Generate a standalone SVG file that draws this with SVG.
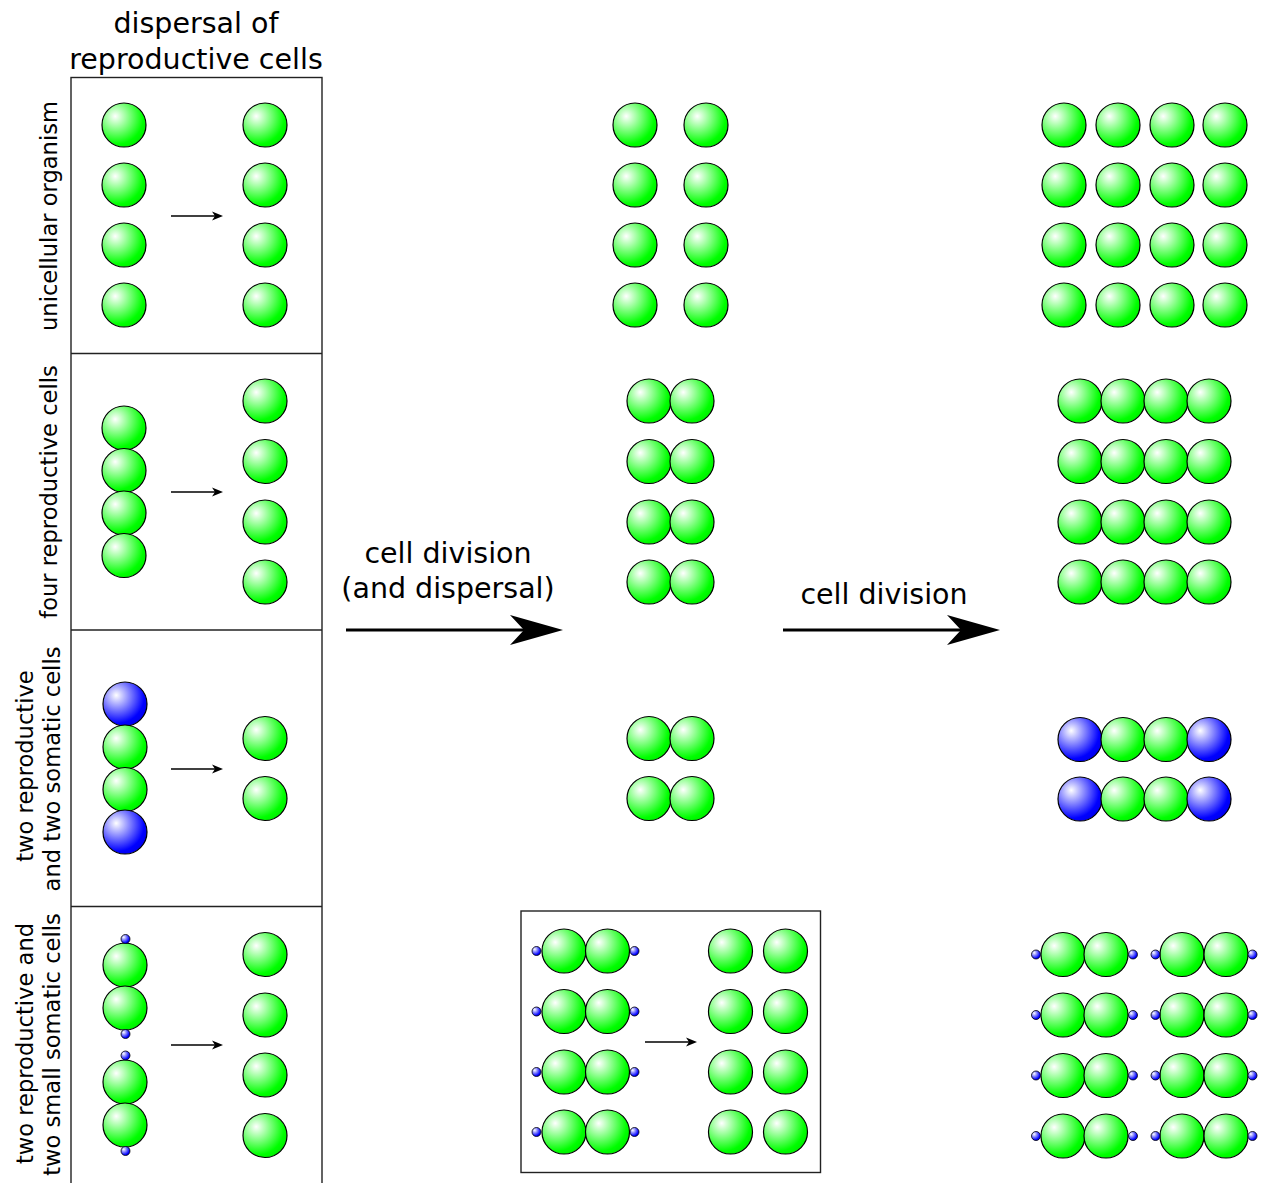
<svg xmlns="http://www.w3.org/2000/svg" width="1264" height="1183" viewBox="0 0 1264 1183">
<style>
text{font-family:"DejaVu Sans","Liberation Sans",sans-serif;fill:#000}
.h{font-size:28.5px;text-anchor:middle}
.v{font-size:22.6px;text-anchor:middle}
.g{fill:url(#gg);stroke:#000;stroke-width:1.2}
.b{fill:url(#bg);stroke:#000;stroke-width:1.2}
.d{fill:url(#bg);stroke:#000;stroke-width:0.8}
.frame{fill:none;stroke:#222;stroke-width:1.4}
.sa{stroke:#000;stroke-width:1.7;fill:none}
.ba{stroke:#000;stroke-width:3;fill:none}
.hd{fill:#000;stroke:none}
</style>
<defs>
<radialGradient id="gg" cx="0.33" cy="0.33" r="0.72" fx="0.3" fy="0.3">
<stop offset="0" stop-color="#ffffff"/>
<stop offset="0.85" stop-color="#00ff00"/>
<stop offset="1" stop-color="#00f000"/>
</radialGradient>
<radialGradient id="bg" cx="0.33" cy="0.33" r="0.72" fx="0.3" fy="0.3">
<stop offset="0" stop-color="#ffffff"/>
<stop offset="0.85" stop-color="#0000ff"/>
<stop offset="1" stop-color="#0000ee"/>
</radialGradient>
</defs>
<rect width="1264" height="1183" fill="#fff"/>

<g id="header">
<text class="h" x="196" y="33">dispersal of</text>
<text class="h" x="196" y="69">reproductive cells</text>
</g>

<g id="row-labels">
<text class="v" transform="translate(57,216) rotate(-90)">unicellular organism</text>
<text class="v" transform="translate(57,492) rotate(-90)">four reproductive cells</text>
<text class="v" transform="translate(33,766) rotate(-90)">two reproductive</text>
<text class="v" transform="translate(60,769) rotate(-90)">and two somatic cells</text>
<text class="v" transform="translate(33,1043.5) rotate(-90)">two reproductive and</text>
<text class="v" transform="translate(60,1044.5) rotate(-90)">two small somatic cells</text>
</g>

<g id="dispersal-frame">
<rect class="frame" x="71" y="77.5" width="251" height="1120"/>
<line class="frame" x1="71" y1="353.5" x2="322" y2="353.5"/>
<line class="frame" x1="71" y1="630" x2="322" y2="630"/>
<line class="frame" x1="71" y1="906.5" x2="322" y2="906.5"/>
</g>

<g id="unicellular-dispersal">
<circle class="g" cx="124" cy="125" r="22"/><circle class="g" cx="124" cy="185" r="22"/><circle class="g" cx="124" cy="245" r="22"/><circle class="g" cx="124" cy="305" r="22"/>
<circle class="g" cx="265" cy="125" r="22"/><circle class="g" cx="265" cy="185" r="22"/><circle class="g" cx="265" cy="245" r="22"/><circle class="g" cx="265" cy="305" r="22"/>
</g>

<g id="four-reproductive-dispersal">
<circle class="g" cx="124" cy="428" r="22"/><circle class="g" cx="124" cy="470.5" r="22"/><circle class="g" cx="124" cy="513" r="22"/><circle class="g" cx="124" cy="555.5" r="22"/>
<circle class="g" cx="265" cy="401" r="22"/><circle class="g" cx="265" cy="461.5" r="22"/><circle class="g" cx="265" cy="522" r="22"/><circle class="g" cx="265" cy="582" r="22"/>
</g>

<g id="somatic-dispersal">
<circle class="b" cx="125" cy="704" r="22"/><circle class="g" cx="125" cy="747" r="22"/><circle class="g" cx="125" cy="789.5" r="22"/><circle class="b" cx="125" cy="832" r="22"/>
<circle class="g" cx="265" cy="738.5" r="22"/><circle class="g" cx="265" cy="798.5" r="22"/>
</g>

<g id="small-somatic-dispersal">
<circle class="g" cx="125" cy="965" r="22"/><circle class="g" cx="125" cy="1008" r="22"/>
<circle class="d" cx="125.5" cy="939" r="4.5"/><circle class="d" cx="125.5" cy="1034" r="4.5"/>
<circle class="g" cx="125" cy="1082" r="22"/><circle class="g" cx="125" cy="1125" r="22"/>
<circle class="d" cx="125.5" cy="1055.5" r="4.5"/><circle class="d" cx="125.5" cy="1151" r="4.5"/>
<circle class="g" cx="265" cy="954.5" r="22"/><circle class="g" cx="265" cy="1015" r="22"/><circle class="g" cx="265" cy="1075" r="22"/><circle class="g" cx="265" cy="1135.5" r="22"/>
</g>

<g id="unicellular-stage2">
<circle class="g" cx="635" cy="125" r="22"/><circle class="g" cx="706" cy="125" r="22"/>
<circle class="g" cx="635" cy="185" r="22"/><circle class="g" cx="706" cy="185" r="22"/>
<circle class="g" cx="635" cy="245" r="22"/><circle class="g" cx="706" cy="245" r="22"/>
<circle class="g" cx="635" cy="305" r="22"/><circle class="g" cx="706" cy="305" r="22"/>
</g>

<g id="unicellular-stage3">
<circle class="g" cx="1064" cy="125" r="22"/><circle class="g" cx="1118" cy="125" r="22"/><circle class="g" cx="1172" cy="125" r="22"/><circle class="g" cx="1225" cy="125" r="22"/>
<circle class="g" cx="1064" cy="185" r="22"/><circle class="g" cx="1118" cy="185" r="22"/><circle class="g" cx="1172" cy="185" r="22"/><circle class="g" cx="1225" cy="185" r="22"/>
<circle class="g" cx="1064" cy="245" r="22"/><circle class="g" cx="1118" cy="245" r="22"/><circle class="g" cx="1172" cy="245" r="22"/><circle class="g" cx="1225" cy="245" r="22"/>
<circle class="g" cx="1064" cy="305" r="22"/><circle class="g" cx="1118" cy="305" r="22"/><circle class="g" cx="1172" cy="305" r="22"/><circle class="g" cx="1225" cy="305" r="22"/>
</g>

<g id="four-reproductive-stage2">
<circle class="g" cx="649" cy="401" r="22"/><circle class="g" cx="692" cy="401" r="22"/>
<circle class="g" cx="649" cy="461.5" r="22"/><circle class="g" cx="692" cy="461.5" r="22"/>
<circle class="g" cx="649" cy="522" r="22"/><circle class="g" cx="692" cy="522" r="22"/>
<circle class="g" cx="649" cy="582" r="22"/><circle class="g" cx="692" cy="582" r="22"/>
</g>

<g id="four-reproductive-stage3">
<circle class="g" cx="1080" cy="401" r="22"/><circle class="g" cx="1123" cy="401" r="22"/><circle class="g" cx="1166" cy="401" r="22"/><circle class="g" cx="1209" cy="401" r="22"/>
<circle class="g" cx="1080" cy="461.5" r="22"/><circle class="g" cx="1123" cy="461.5" r="22"/><circle class="g" cx="1166" cy="461.5" r="22"/><circle class="g" cx="1209" cy="461.5" r="22"/>
<circle class="g" cx="1080" cy="522" r="22"/><circle class="g" cx="1123" cy="522" r="22"/><circle class="g" cx="1166" cy="522" r="22"/><circle class="g" cx="1209" cy="522" r="22"/>
<circle class="g" cx="1080" cy="582" r="22"/><circle class="g" cx="1123" cy="582" r="22"/><circle class="g" cx="1166" cy="582" r="22"/><circle class="g" cx="1209" cy="582" r="22"/>
</g>

<g id="somatic-stage2">
<circle class="g" cx="649" cy="738.5" r="22"/><circle class="g" cx="692" cy="738.5" r="22"/>
<circle class="g" cx="649" cy="798.5" r="22"/><circle class="g" cx="692" cy="798.5" r="22"/>
</g>

<g id="somatic-stage3">
<circle class="b" cx="1080" cy="739.5" r="22"/><circle class="g" cx="1123" cy="739.5" r="22"/><circle class="g" cx="1166" cy="739.5" r="22"/><circle class="b" cx="1209" cy="739.5" r="22"/>
<circle class="b" cx="1080" cy="799" r="22"/><circle class="g" cx="1123" cy="799" r="22"/><circle class="g" cx="1166" cy="799" r="22"/><circle class="b" cx="1209" cy="799" r="22"/>
</g>

<g id="small-somatic-stage2">
<rect class="frame" x="521" y="911" width="299.5" height="261.5"/>
<circle class="g" cx="564" cy="951" r="22"/><circle class="g" cx="607.5" cy="951" r="22"/><circle class="d" cx="536.5" cy="951" r="4.5"/><circle class="d" cx="634.5" cy="951" r="4.5"/>
<circle class="g" cx="564" cy="1011.5" r="22"/><circle class="g" cx="607.5" cy="1011.5" r="22"/><circle class="d" cx="536.5" cy="1011.5" r="4.5"/><circle class="d" cx="634.5" cy="1011.5" r="4.5"/>
<circle class="g" cx="564" cy="1072" r="22"/><circle class="g" cx="607.5" cy="1072" r="22"/><circle class="d" cx="536.5" cy="1072" r="4.5"/><circle class="d" cx="634.5" cy="1072" r="4.5"/>
<circle class="g" cx="564" cy="1132" r="22"/><circle class="g" cx="607.5" cy="1132" r="22"/><circle class="d" cx="536.5" cy="1132" r="4.5"/><circle class="d" cx="634.5" cy="1132" r="4.5"/>
<circle class="g" cx="730.5" cy="951" r="22"/><circle class="g" cx="785.5" cy="951" r="22"/>
<circle class="g" cx="730.5" cy="1011.5" r="22"/><circle class="g" cx="785.5" cy="1011.5" r="22"/>
<circle class="g" cx="730.5" cy="1072" r="22"/><circle class="g" cx="785.5" cy="1072" r="22"/>
<circle class="g" cx="730.5" cy="1132" r="22"/><circle class="g" cx="785.5" cy="1132" r="22"/>
</g>

<g id="small-somatic-stage3">
<circle class="g" cx="1063" cy="954.5" r="22"/><circle class="g" cx="1106" cy="954.5" r="22"/><circle class="d" cx="1036" cy="954.5" r="4.5"/><circle class="d" cx="1133" cy="954.5" r="4.5"/>
<circle class="g" cx="1182" cy="954.5" r="22"/><circle class="g" cx="1226" cy="954.5" r="22"/><circle class="d" cx="1155.5" cy="954.5" r="4.5"/><circle class="d" cx="1252.5" cy="954.5" r="4.5"/>
<circle class="g" cx="1063" cy="1015" r="22"/><circle class="g" cx="1106" cy="1015" r="22"/><circle class="d" cx="1036" cy="1015" r="4.5"/><circle class="d" cx="1133" cy="1015" r="4.5"/>
<circle class="g" cx="1182" cy="1015" r="22"/><circle class="g" cx="1226" cy="1015" r="22"/><circle class="d" cx="1155.5" cy="1015" r="4.5"/><circle class="d" cx="1252.5" cy="1015" r="4.5"/>
<circle class="g" cx="1063" cy="1075.5" r="22"/><circle class="g" cx="1106" cy="1075.5" r="22"/><circle class="d" cx="1036" cy="1075.5" r="4.5"/><circle class="d" cx="1133" cy="1075.5" r="4.5"/>
<circle class="g" cx="1182" cy="1075.5" r="22"/><circle class="g" cx="1226" cy="1075.5" r="22"/><circle class="d" cx="1155.5" cy="1075.5" r="4.5"/><circle class="d" cx="1252.5" cy="1075.5" r="4.5"/>
<circle class="g" cx="1063" cy="1136" r="22"/><circle class="g" cx="1106" cy="1136" r="22"/><circle class="d" cx="1036" cy="1136" r="4.5"/><circle class="d" cx="1133" cy="1136" r="4.5"/>
<circle class="g" cx="1182" cy="1136" r="22"/><circle class="g" cx="1226" cy="1136" r="22"/><circle class="d" cx="1155.5" cy="1136" r="4.5"/><circle class="d" cx="1252.5" cy="1136" r="4.5"/>
</g>

<g id="connectors">
<line class="sa" x1="171" y1="216" x2="215" y2="216"/><path class="hd" d="M223,216 L212,211.5 L215,216 L212,220.5 Z"/>
<line class="sa" x1="171" y1="492" x2="215" y2="492"/><path class="hd" d="M223,492 L212,487.5 L215,492 L212,496.5 Z"/>
<line class="sa" x1="171" y1="769" x2="215" y2="769"/><path class="hd" d="M223,769 L212,764.5 L215,769 L212,773.5 Z"/>
<line class="sa" x1="171" y1="1045" x2="215" y2="1045"/><path class="hd" d="M223,1045 L212,1040.5 L215,1045 L212,1049.5 Z"/>
<line class="sa" x1="645" y1="1042" x2="689" y2="1042"/><path class="hd" d="M697,1042 L686,1037.5 L689,1042 L686,1046.5 Z"/>
<line class="ba" x1="346" y1="630" x2="526" y2="630"/><path class="hd" d="M563,630 L510,615 L524,630 L510,645 Z"/>
<line class="ba" x1="783" y1="630" x2="963" y2="630"/><path class="hd" d="M1000,630 L947,615 L961,630 L947,645 Z"/>
</g>

<g id="connector-labels">
<text class="h" x="448" y="563">cell division</text>
<text class="h" x="448" y="598">(and dispersal)</text>
<text class="h" x="884" y="604">cell division</text>
</g>
</svg>
